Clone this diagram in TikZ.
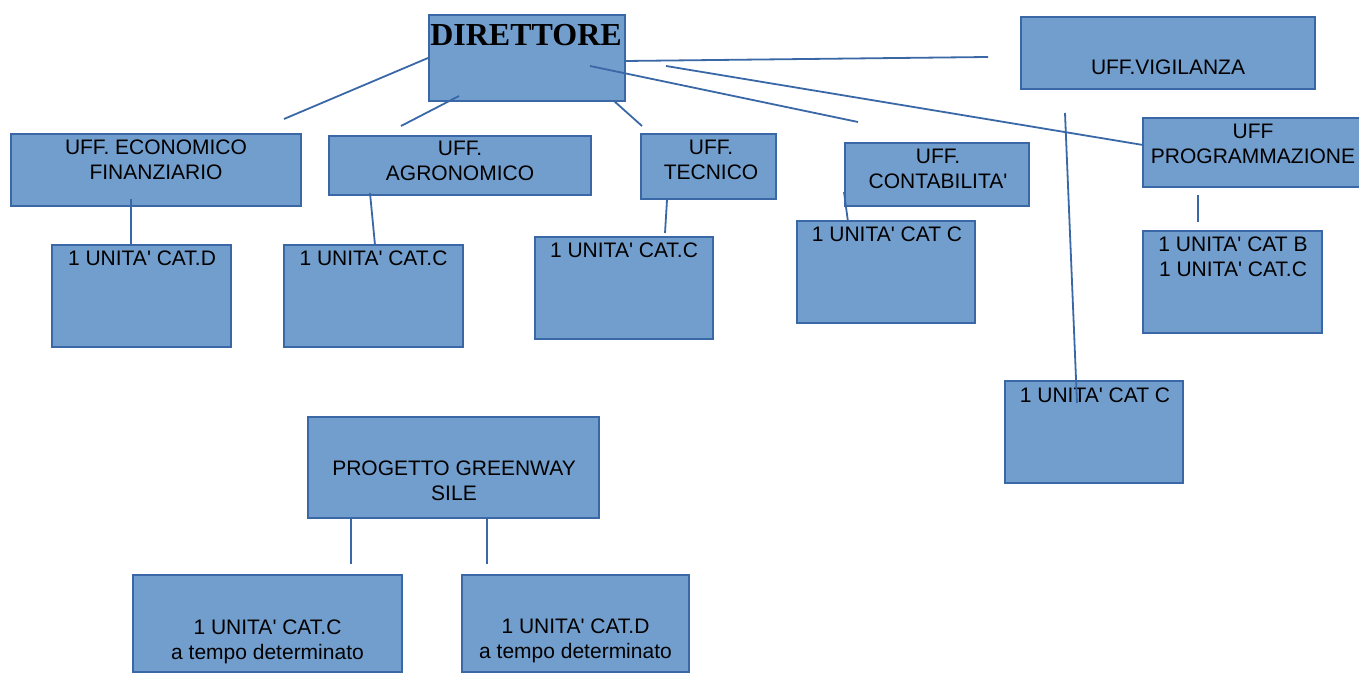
\documentclass[tikz,border=0pt]{standalone}
\usepackage{fontspec}
\setmainfont{Liberation Sans}[Ligatures=TeXOff]
\newfontfamily\titolo{Liberation Serif}
\usepackage{tikz}
\usetikzlibrary{shapes,arrows}
\definecolor{boxfill}{RGB}{114,158,206}
\definecolor{boxline}{RGB}{58,103,166}

\begin{document}
\begin{tikzpicture}[
	x=0.5pt, y=-0.5pt,
	ufficio/.style={draw=boxline,fill=boxfill,line width=1pt,inner sep=0pt},
	scritta/.style={anchor=base,align=center,inner sep=0pt,font=\fontsize{10.5}{12.5}\selectfont},
	filo/.style={draw=boxline,line width=0.9pt}
	]
	\useasboundingbox (0,0) rectangle (1359,673);
	\clip (0,0) rectangle (1359,673);
	% uffici
	\node [ufficio,minimum width=98pt,minimum height=43pt] (D) at (527,58) {};
	\node [ufficio,minimum width=147pt,minimum height=36pt] (V) at (1168,53) {};
	\node [ufficio,minimum width=145pt,minimum height=36pt] (E) at (156,170) {};
	\node [ufficio,minimum width=131pt,minimum height=29.5pt] (A) at (460,165.5) {};
	\node [ufficio,minimum width=67.5pt,minimum height=32.5pt] (T) at (708.5,166.5) {};
	\node [ufficio,minimum width=92pt,minimum height=31.5pt] (C) at (937,174.5) {};
	\node [ufficio,minimum width=110pt,minimum height=34.5pt] (P) at (1253,152.5) {};
	% unita
	\node [ufficio,minimum width=89.5pt,minimum height=51pt] (ED) at (141.5,296) {};
	\node [ufficio,minimum width=89.5pt,minimum height=51pt] (AC) at (373.5,296) {};
	\node [ufficio,minimum width=89pt,minimum height=51pt] (TC) at (624,288) {};
	\node [ufficio,minimum width=89pt,minimum height=51pt] (CC) at (886,272) {};
	\node [ufficio,minimum width=89.5pt,minimum height=51pt] (PB) at (1232.5,282) {};
	\node [ufficio,minimum width=89pt,minimum height=51pt] (VC) at (1094,432) {};
	% progetto
	\node [ufficio,minimum width=145.5pt,minimum height=50.5pt] (G) at (453.5,467.5) {};
	\node [ufficio,minimum width=134.5pt,minimum height=48.5pt] (GC) at (267.5,623.5) {};
	\node [ufficio,minimum width=113.5pt,minimum height=48.5pt] (GD) at (575.5,623.5) {};

	% scritte (base = ultima riga)
	\node [scritta,font=\titolo\bfseries\fontsize{16}{18}\selectfont] (Dt) at (526,46) {DIRETTORE};
	\node [scritta] (Vt) at (1168,75) {UFF.VIGILANZA};
	\node [scritta] (Et) at (156,180) {UFF. ECONOMICO\\FINANZIARIO};
	\node [scritta] (At) at (460,181) {UFF.\\AGRONOMICO};
	\node [scritta] (Tt) at (711,180) {UFF.\\TECNICO};
	\node [scritta] (Ct) at (938,189) {UFF.\\CONTABILITA'};
	\node [scritta] (Pt) at (1253,164) {UFF\\PROGRAMMAZIONE};
	\node [scritta] (EDt) at (142,266) {1 UNITA' CAT.D};
	\node [scritta] (ACt) at (373.5,266) {1 UNITA' CAT.C};
	\node [scritta] (TCt) at (624,258) {1 UNITA' CAT.C};
	\node [scritta] (CCt) at (887,242) {1 UNITA' CAT C};
	\node [scritta] (PBt) at (1233,277) {1 UNITA' CAT B\\1 UNITA' CAT.C};
	\node [scritta] (VCt) at (1095,402) {1 UNITA' CAT C};
	\node [scritta] (Gt) at (454,500) {PROGETTO GREENWAY\\SILE};
	\node [scritta] (GCt) at (267.5,659) {1 UNITA' CAT.C\\a tempo determinato};
	\node [scritta] (GDt) at (575.5,658) {1 UNITA' CAT.D\\a tempo determinato};

	% capi liberi dei fili
	\coordinate (d1) at (284,119);
	\coordinate (d2a) at (459,96);
	\coordinate (d2b) at (401,126);
	\coordinate (d3a) at (614,101);
	\coordinate (d3b) at (642,126);
	\coordinate (d4a) at (590,66);
	\coordinate (d4b) at (858,122);
	\coordinate (d5a) at (625,61);
	\coordinate (d5b) at (988,57);
	\coordinate (d6a) at (666,66);
	\coordinate (d6b) at (1143,145);
	\coordinate (v1a) at (1065,113);
	\coordinate (v1b) at (1077,403);
	\coordinate (e1a) at (131,199);
	\coordinate (e1b) at (131,245);
	\coordinate (a1a) at (370,193);
	\coordinate (a1b) at (375,245);
	\coordinate (t1a) at (667,200);
	\coordinate (t1b) at (665,233);
	\coordinate (c1a) at (844,192);
	\coordinate (c1b) at (848,222);
	\coordinate (p1a) at (1198,195);
	\coordinate (p1b) at (1198,222);
	\coordinate (g1a) at (351,518);
	\coordinate (g1b) at (351,564);
	\coordinate (g2a) at (487,518);
	\coordinate (g2b) at (487,564);

	% fili
	\draw [filo] (D.west) -- (d1);
	\draw [filo] (d2a) -- (d2b);
	\draw [filo] (d3a) -- (d3b);
	\draw [filo] (d4a) -- (d4b);
	\draw [filo] (d5a) -- (d5b);
	\draw [filo] (d6a) -- (d6b);
	\draw [filo] (v1a) -- (v1b);
	\draw [filo] (e1a) -- (e1b);
	\draw [filo] (a1a) -- (a1b);
	\draw [filo] (t1a) -- (t1b);
	\draw [filo] (c1a) -- (c1b);
	\draw [filo] (p1a) -- (p1b);
	\draw [filo] (g1a) -- (g1b);
	\draw [filo] (g2a) -- (g2b);
\end{tikzpicture}
\end{document}
